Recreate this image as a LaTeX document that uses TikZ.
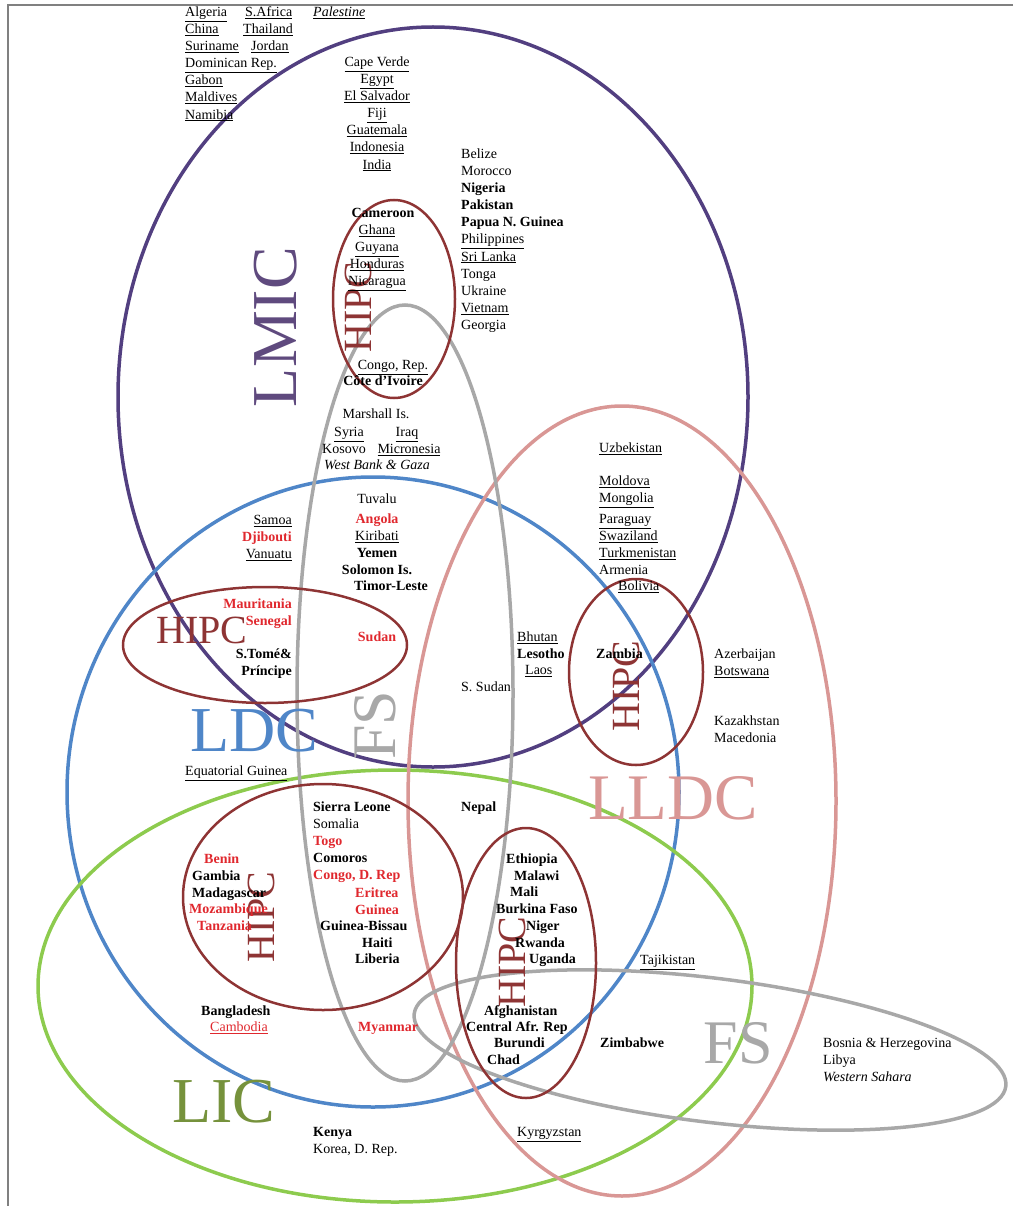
\documentclass[tikz,border=0pt]{standalone}
\usepackage{fontspec}
\setmainfont{Liberation Serif}
\usetikzlibrary{positioning}

\definecolor{lmicpurple}{HTML}{523F80}
\definecolor{lmictext}{HTML}{5F4A7E}
\definecolor{ldcblue}{HTML}{4F86C8}
\definecolor{licgreen}{HTML}{8DCB4E}
\definecolor{lictext}{HTML}{76923C}
\definecolor{lldcpink}{HTML}{D99795}
\definecolor{fsgray}{HTML}{A8A8A8}
\definecolor{hipcred}{HTML}{8E3434}
\definecolor{ctyred}{HTML}{E0282E}

\newcommand\ctyfont{\fontsize{14}{16}\selectfont}
\newcommand\undl[1]{\underline{#1}}

\begin{document}
\begin{tikzpicture}[x=1pt, y=-1pt]
  \tikzset{cty/.style={inner sep=0pt, font=\ctyfont, text height=9pt, text depth=2pt}}
  \tikzset{bcty/.style={cty, font=\ctyfont\bfseries}}
  \tikzset{rcty/.style={bcty, text=ctyred}}
  \tikzset{icty/.style={cty, font=\ctyfont\itshape}}
  \tikzset{lrow/.style={below=5.7pt of #1.south west, anchor=north west}}
  \tikzset{crow/.style={below=5.7pt of #1}}
  \tikzset{rrow/.style={below=5.7pt of #1.south east, anchor=north east}}
  \tikzset{biglab/.style={inner sep=0pt}}
  \tikzset{group/.style={line width=3.5pt}}
  \tikzset{hipc/.style={line width=2.5pt, hipcred}}

  \useasboundingbox (0,0) rectangle (1014,1206);
  \draw[gray, line width=2pt] (1013,5) -- (8,5) -- (8,1206);

  % income and country groups
  \draw[group, lmicpurple] (433,397) ellipse [x radius=315pt, y radius=370pt];
  \draw[group, ldcblue] (373,792) ellipse [x radius=306pt, y radius=315pt];
  \draw[group, licgreen] (395,986) ellipse [x radius=357pt, y radius=216pt];
  \draw[group, lldcpink] (622,801) ellipse [x radius=214pt, y radius=395pt];
  \draw[group, fsgray] (405,693) ellipse [x radius=108pt, y radius=388pt];
  \draw[group, fsgray, rotate around={-7:(710,1050)}] (710,1050) ellipse [x radius=298pt, y radius=72pt];

  % HIPC sets
  \draw[hipc] (394,299) ellipse [x radius=61pt, y radius=99pt];
  \draw[hipc] (265,645) ellipse [x radius=142pt, y radius=58pt];
  \draw[hipc] (636,672) ellipse [x radius=67pt, y radius=93pt];
  \draw[hipc] (323,897) ellipse [x radius=140pt, y radius=113pt];
  \draw[hipc] (526,963) ellipse [x radius=70pt, y radius=135pt];

  % big labels
  \node[biglab, lmictext, rotate=90, font=\fontsize{64}{64}\selectfont] (lmic) at (276,327) {LMIC};
  \node[biglab, ldcblue, font=\fontsize{64}{64}\selectfont] (ldc) at (254,731) {LDC};
  \node[biglab, fsgray, rotate=90, font=\fontsize{62}{62}\selectfont] (fsa) at (375,725) {FS};
  \node[biglab, lldcpink, font=\fontsize{65}{65}\selectfont] (lldc) at (673,798) {LLDC};
  \node[biglab, fsgray, font=\fontsize{62}{62}\selectfont] (fsb) at (738,1043) {FS};
  \node[biglab, lictext, font=\fontsize{64}{64}\selectfont] (lic) at (224,1102) {LIC};
  \node[biglab, hipcred, rotate=90, font=\fontsize{40}{40}\selectfont] (hipca) at (358,307) {HIPC};
  \node[biglab, hipcred, font=\fontsize{40}{40}\selectfont] (hipcb) at (202,630) {HIPC};
  \node[biglab, hipcred, rotate=90, font=\fontsize{40}{40}\selectfont] (hipcc) at (626,686) {HIPC};
  \node[biglab, hipcred, rotate=90, font=\fontsize{40}{40}\selectfont] (hipcd) at (261,917) {HIPC};
  \node[biglab, hipcred, rotate=90, font=\fontsize{40}{40}\selectfont] (hipce) at (512,962) {HIPC};

  % outside all sets
  \node[cty, anchor=west] (algeria) at (185,13) {\undl{Algeria}};
  \node[cty, lrow=algeria] (china) {\undl{China}};
  \node[cty, lrow=china] (suriname) {\undl{Suriname}};
  \node[cty, lrow=suriname] (domrep) {\undl{Dominican Rep.}};
  \node[cty, lrow=domrep] (gabon) {\undl{Gabon}};
  \node[cty, lrow=gabon] (maldives) {\undl{Maldives}};
  \node[cty, lrow=maldives] (namibia) {\undl{Namibia}};
  \node[cty, anchor=west] (safrica) at (245,13) {\undl{S.Africa}};
  \node[cty, anchor=west] (thailand) at (243,30) {\undl{Thailand}};
  \node[cty, anchor=west] (jordan) at (251,47) {\undl{Jordan}};
  \node[icty, anchor=west] (palestine) at (313,13) {\undl{Palestine}};

  % LMIC
  \node[cty] (capeverde) at (377,63) {\undl{Cape Verde}};
  \node[cty, crow=capeverde] (egypt) {\undl{Egypt}};
  \node[cty, crow=egypt] (elsalvador) {\undl{El Salvador}};
  \node[cty, crow=elsalvador] (fiji) {\undl{Fiji}};
  \node[cty, crow=fiji] (guatemala) {\undl{Guatemala}};
  \node[cty, crow=guatemala] (indonesia) {\undl{Indonesia}};
  \node[cty, crow=indonesia] (india) {\undl{India}};

  \node[cty, anchor=west] (belize) at (461,155) {Belize};
  \node[cty, lrow=belize] (morocco) {Morocco};
  \node[bcty, lrow=morocco] (nigeria) {Nigeria};
  \node[bcty, lrow=nigeria] (pakistan) {Pakistan};
  \node[bcty, lrow=pakistan] (papua) {Papua N. Guinea};
  \node[cty, lrow=papua] (philippines) {\undl{Philippines}};
  \node[cty, lrow=philippines] (srilanka) {\undl{Sri Lanka}};
  \node[cty, lrow=srilanka] (tonga) {Tonga};
  \node[cty, lrow=tonga] (ukraine) {Ukraine};
  \node[cty, lrow=ukraine] (vietnam) {\undl{Vietnam}};
  \node[cty, lrow=vietnam] (georgia) {Georgia};

  \node[bcty] (cameroon) at (383,214) {Cameroon};
  \node[cty] (ghana) at (377,231) {\undl{Ghana}};
  \node[cty, crow=ghana] (guyana) {\undl{Guyana}};
  \node[cty, crow=guyana] (honduras) {\undl{Honduras}};
  \node[cty, crow=honduras] (nicaragua) {\undl{Nicaragua}};
  \node[cty] (congorep) at (393,366) {\undl{Congo, Rep.}};
  \node[bcty] (ivoire) at (383,382) {Côte d'Ivoire};

  % FS
  \node[cty] (marshall) at (376,415) {Marshall Is.};
  \node[cty] (syria) at (349,433) {\undl{Syria}};
  \node[cty] (iraq) at (407,433) {\undl{Iraq}};
  \node[cty] (kosovo) at (344,450) {Kosovo};
  \node[cty] (micronesia) at (409,450) {\undl{Micronesia}};
  \node[icty] (westbank) at (377,466) {West Bank \& Gaza};
  \node[cty] (tuvalu) at (377,500) {Tuvalu};
  \node[rcty] (angola) at (377,520) {Angola};
  \node[cty, crow=angola] (kiribati) {\undl{Kiribati}};
  \node[bcty, crow=kiribati] (yemen) {Yemen};
  \node[bcty, crow=yemen] (solomon) {Solomon Is.};
  \node[bcty] (timor) at (391,587) {Timor-Leste};

  % LDC
  \node[cty, anchor=east] (samoa) at (292,521) {\undl{Samoa}};
  \node[rcty, rrow=samoa] (djibouti) {Djibouti};
  \node[cty, rrow=djibouti] (vanuatu) {\undl{Vanuatu}};
  \node[rcty, anchor=east] (mauritania) at (292,605) {Mauritania};
  \node[rcty, rrow=mauritania] (senegal) {Senegal};
  \node[rcty] (sudan) at (377,638) {Sudan};
  \node[bcty, anchor=east] (stome) at (292,655) {S.Tomé\&};
  \node[bcty, rrow=stome] (principe) {Príncipe};
  \node[cty, anchor=west] (eqguinea) at (185,772) {\undl{Equatorial Guinea}};

  % LLDC
  \node[cty, anchor=west] (uzbekistan) at (599,449) {\undl{Uzbekistan}};
  \node[cty, anchor=west] (moldova) at (599,482) {\undl{Moldova}};
  \node[cty, lrow=moldova] (mongolia) {\undl{Mongolia}};
  \node[cty, anchor=west] (paraguay) at (599,520) {\undl{Paraguay}};
  \node[cty, lrow=paraguay] (swaziland) {\undl{Swaziland}};
  \node[cty, lrow=swaziland] (turkmen) {\undl{Turkmenistan}};
  \node[cty, lrow=turkmen] (armenia) {Armenia};
  \node[cty, anchor=west] (bolivia) at (618,587) {\undl{Bolivia}};
  \node[cty, anchor=west] (bhutan) at (517,638) {\undl{Bhutan}};
  \node[bcty, lrow=bhutan] (lesotho) {Lesotho};
  \node[cty, anchor=west] (laos) at (525,671) {\undl{Laos}};
  \node[bcty, anchor=west] (zambia) at (596,655) {Zambia};
  \node[cty, anchor=west] (ssudan) at (461,688) {S. Sudan};
  \node[cty, anchor=west] (azerbaijan) at (714,655) {Azerbaijan};
  \node[cty, lrow=azerbaijan] (botswana) {\undl{Botswana}};
  \node[cty, anchor=west] (kazakhstan) at (714,722) {Kazakhstan};
  \node[cty, lrow=kazakhstan] (macedonia) {Macedonia};

  % LIC
  \node[bcty, anchor=west] (sierra) at (313,808) {Sierra Leone};
  \node[cty, lrow=sierra] (somalia) {Somalia};
  \node[rcty, lrow=somalia] (togo) {Togo};
  \node[bcty, lrow=togo] (comoros) {Comoros};
  \node[rcty, lrow=comoros] (congodr) {Congo, D. Rep};
  \node[rcty, anchor=west] (eritrea) at (355,894) {Eritrea};
  \node[rcty, lrow=eritrea] (guinea) {Guinea};
  \node[bcty, anchor=west] (gbissau) at (320,927) {Guinea-Bissau};
  \node[bcty, anchor=west] (haiti) at (362,944) {Haiti};
  \node[bcty, anchor=west] (liberia) at (355,960) {Liberia};
  \node[rcty, anchor=west] (benin) at (204,860) {Benin};
  \node[bcty, anchor=west] (gambia) at (192,877) {Gambia};
  \node[bcty, lrow=gambia] (madagascar) {Madagascar};
  \node[rcty, anchor=west] (mozambique) at (189,910) {Mozambique};
  \node[rcty, anchor=west] (tanzania) at (197,927) {Tanzania};
  \node[bcty, anchor=west] (nepal) at (461,808) {Nepal};
  \node[bcty, anchor=west] (ethiopia) at (506,860) {Ethiopia};
  \node[bcty, anchor=west] (malawi) at (514,877) {Malawi};
  \node[bcty, anchor=west] (mali) at (510,893) {Mali};
  \node[bcty, anchor=west] (burkina) at (496,910) {Burkina Faso};
  \node[bcty, anchor=west] (niger) at (526,927) {Niger};
  \node[bcty, anchor=west] (rwanda) at (515,944) {Rwanda};
  \node[bcty, anchor=west] (uganda) at (529,960) {Uganda};
  \node[bcty, anchor=west] (afghan) at (484,1012) {Afghanistan};
  \node[bcty, anchor=west] (car) at (466,1028) {Central Afr. Rep};
  \node[bcty, anchor=west] (burundi) at (494,1044) {Burundi};
  \node[bcty, anchor=west] (chad) at (487,1061) {Chad};
  \node[cty, anchor=west] (tajik) at (640,961) {\undl{Tajikistan}};
  \node[bcty, anchor=west] (zimbabwe) at (600,1044) {Zimbabwe};
  \node[bcty, anchor=west] (bangladesh) at (201,1012) {Bangladesh};
  \node[cty, text=ctyred, anchor=west] (cambodia) at (210,1028) {\undl{Cambodia}};
  \node[rcty, anchor=west] (myanmar) at (358,1028) {Myanmar};
  \node[bcty, anchor=west] (kenya) at (313,1133) {Kenya};
  \node[cty, lrow=kenya] (korea) {Korea, D. Rep.};
  \node[cty, anchor=west] (kyrgyz) at (517,1133) {\undl{Kyrgyzstan}};

  % FS only
  \node[cty, anchor=west] (bosnia) at (823,1044) {Bosnia \& Herzegovina};
  \node[cty, lrow=bosnia] (libya) {Libya};
  \node[icty, lrow=libya] (wsahara) {Western Sahara};
\end{tikzpicture}
\end{document}
